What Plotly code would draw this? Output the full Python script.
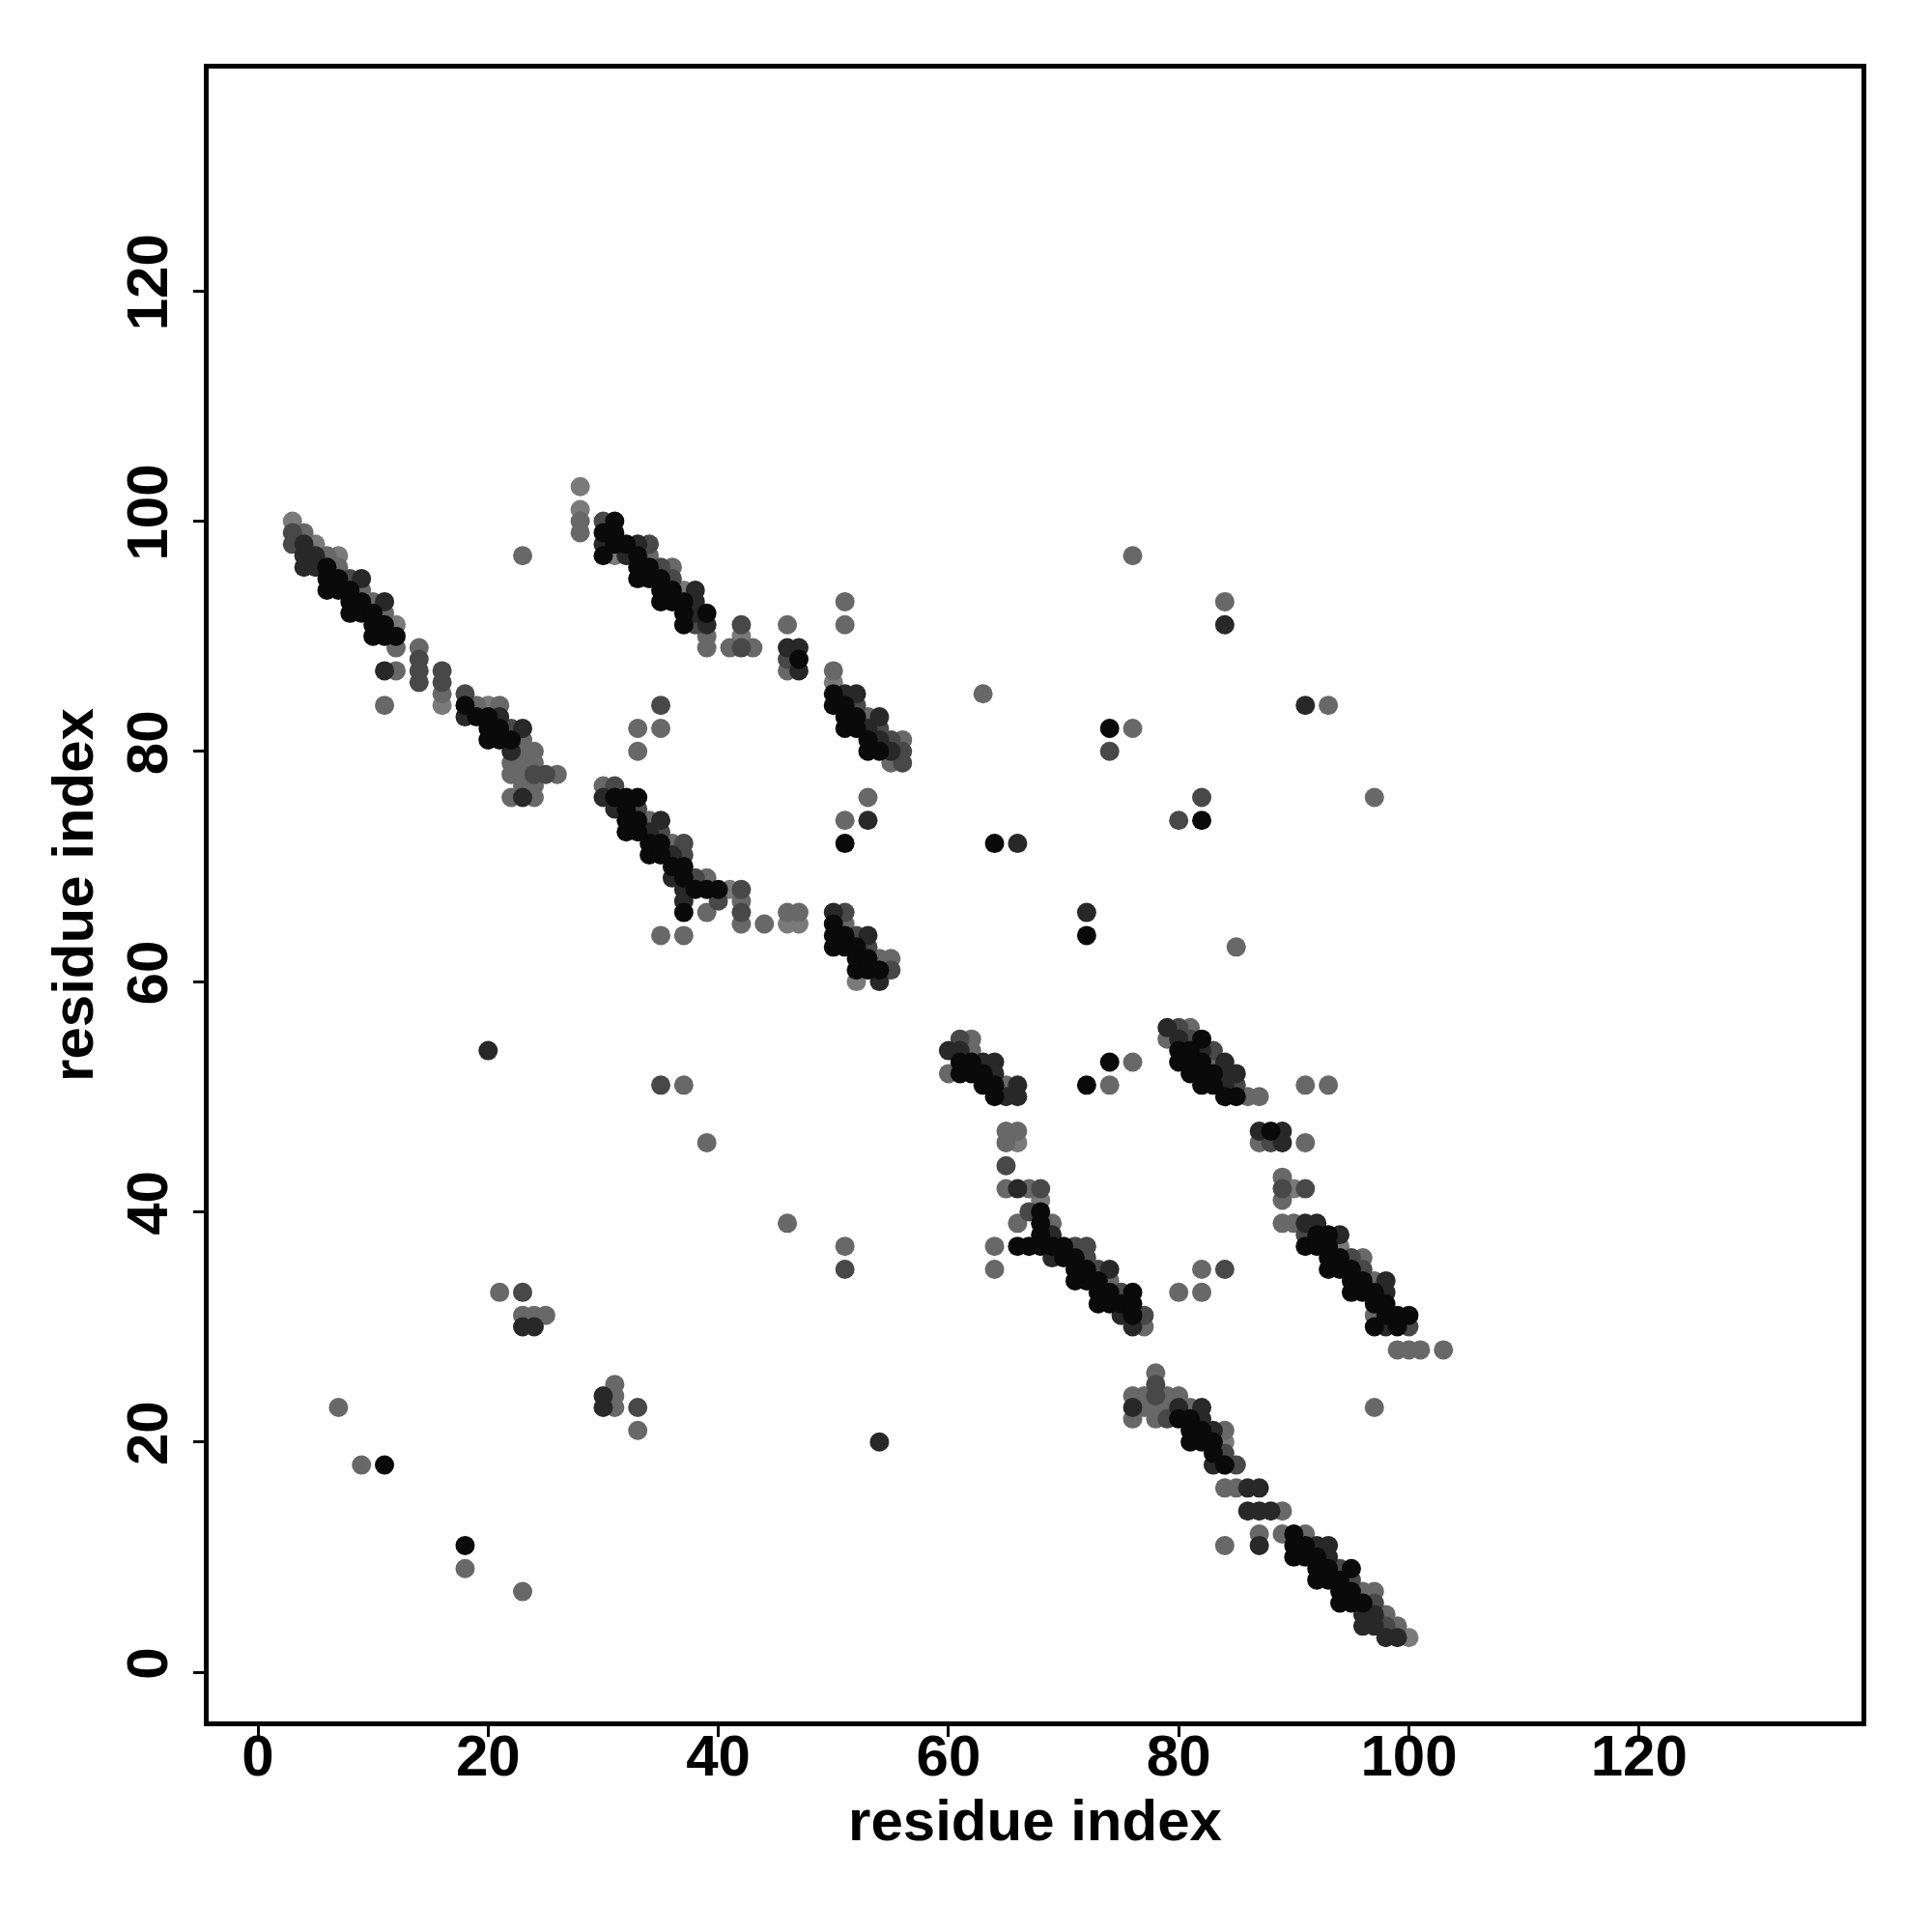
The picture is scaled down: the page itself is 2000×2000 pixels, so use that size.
import plotly.graph_objects as go

# shade code: 0 = black ... 4 = light grey (converted to contact probability below)
PROB_OF_SHADE = [0.95, 0.8, 0.6, 0.4, 0.2]

# band: residues 3-26 vs 76-100
band_a = [
    (3,100,4),(3,99,2),(3,98,2),
    (4,99,3),(4,98,1),(4,97,1),(4,96,1),
    (5,98,4),(5,97,1),(5,96,1),
    (6,97,3),(6,96,0),(6,95,0),(6,94,0),
    (7,97,4),(7,96,3),(7,95,0),(7,94,0),
    (8,95,2),(8,94,0),(8,93,0),(8,92,0),
    (9,95,1),(9,94,3),(9,93,0),(9,92,0),
    (10,93,3),(10,92,0),(10,91,0),(10,90,0),
    (11,93,1),(11,92,3),(11,91,0),(11,90,0),(11,87,1),(11,84,3),
    (12,91,4),(12,90,0),(12,89,3),(12,87,3),
    (14,89,3),(14,88,2),(14,87,2),(14,86,2),
    (16,87,2),(16,86,2),(16,85,3),(16,84,4),
    (18,85,2),(18,84,0),(18,83,1),
    (19,84,3),(19,83,0),
    (20,84,4),(20,83,0),(20,82,0),(20,81,0),
    (21,84,3),(21,83,1),(21,82,0),(21,81,0),
    (22,82,2),(22,81,0),(22,80,1),(22,79,3),(22,78,3),(22,76,3),
    (23,82,1),(23,81,3),(23,80,3),(23,79,3),(23,78,3),(23,77,3),(23,76,1),
    (24,80,3),(24,79,3),(24,78,2),(24,77,3),(24,76,3),
    (25,78,2),(26,78,3),(23,97,3),
]

# band: residues 28-56 vs 79-103
band_b = [
    (28,103,4),(28,101,4),(28,100,3),(28,99,3),
    (30,100,2),(30,99,0),(30,98,1),(30,97,0),
    (31,100,0),(31,99,0),(31,98,0),(31,97,4),
    (32,98,0),(32,97,1),
    (33,98,1),(33,97,0),(33,96,0),(33,95,0),
    (34,98,2),(34,97,3),(34,96,0),(34,95,0),
    (35,96,2),(35,95,0),(35,94,0),(35,93,0),
    (36,96,3),(36,95,2),(36,94,0),(36,93,0),
    (37,94,4),(37,93,0),(37,92,0),(37,91,0),
    (38,94,1),(38,93,1),(38,92,1),(38,91,2),
    (39,92,0),(39,91,1),(39,90,3),(39,89,3),
    (41,89,3),(42,91,2),(42,90,4),(42,89,2),(43,89,3),
    (46,91,3),(46,89,1),(46,88,2),(46,87,3),
    (47,89,1),(47,88,0),(47,87,1),
    (51,93,3),(51,91,3),
    (50,87,3),(50,86,4),(50,85,0),(50,84,0),
    (51,85,1),(51,84,0),(51,83,0),(51,82,0),
    (52,85,1),(52,84,2),(52,83,0),(52,82,0),
    (53,83,3),(53,82,1),(53,81,0),(53,80,0),
    (54,83,1),(54,82,2),(54,81,1),(54,80,0),
    (55,81,2),(55,80,1),(55,79,3),
    (56,81,3),(56,80,2),(56,79,2),
    (33,82,3),(33,80,3),(35,84,2),(35,82,3),
]

# band: residues 30-55 vs 60-77
band_c = [
    (30,77,3),(30,76,1),
    (31,77,2),(31,76,0),(31,75,1),
    (32,76,0),(32,75,0),(32,74,0),(32,73,0),
    (33,76,0),(33,75,2),(33,74,0),(33,73,0),
    (34,74,3),(34,73,1),(34,72,0),(34,71,0),
    (35,74,1),(35,73,2),(35,72,0),(35,71,0),
    (36,72,3),(36,71,1),(36,70,0),(36,69,1),
    (37,72,2),(37,71,2),(37,70,0),(37,69,0),(37,68,1),(37,67,1),(37,66,0),(37,64,3),
    (38,69,2),(38,68,0),
    (39,69,3),(39,68,0),(39,66,3),
    (40,68,0),(40,67,2),(41,68,4),
    (42,68,2),(42,67,3),(42,66,2),(42,65,3),
    (44,65,3),(46,66,3),(46,65,4),(47,66,3),(47,65,4),(35,64,3),
    (50,66,1),(50,65,0),(50,64,0),(50,63,0),
    (51,66,2),(51,65,3),(51,64,0),(51,63,0),
    (52,64,2),(52,63,0),(52,62,0),(52,61,0),(52,60,4),
    (53,64,1),(53,63,2),(53,62,0),(53,61,0),
    (54,62,3),(54,61,0),(54,60,1),
    (55,62,3),(55,61,2),
    (53,76,3),(51,74,3),(53,74,1),(51,72,0),
]

# cluster: residues 60-78 vs 30-55
band_d = [
    (60,54,1),(60,52,3),
    (61,55,2),(61,54,1),(61,53,0),(61,52,0),
    (62,55,3),(62,54,3),(62,53,0),(62,52,0),
    (63,53,1),(63,52,0),(63,51,0),
    (64,53,1),(64,52,1),(64,51,0),(64,50,0),
    (65,51,3),(65,50,1),(66,51,1),(66,50,1),
    (65,47,3),(66,47,3),(65,46,3),(66,46,4),(65,44,2),
    (65,42,3),(66,42,1),(67,42,3),(68,42,2),(68,41,4),
    (67,40,2),(66,39,3),(68,40,0),(68,39,0),(68,38,0),(69,39,3),(69,38,1),
    (64,37,3),(64,35,3),
    (66,37,0),(67,37,0),(68,37,0),(69,37,0),(70,37,0),(71,37,2),(72,37,2),
    (69,36,1),(70,36,0),(71,36,0),(72,36,2),
    (71,35,0),(72,35,0),(73,35,2),(74,35,1),
    (71,34,0),(72,34,0),(73,34,0),(74,34,3),
    (73,33,0),(74,33,0),(75,33,2),(76,33,0),
    (73,32,0),(74,32,0),(75,32,0),(76,32,0),
    (75,31,1),(76,31,0),(77,31,2),
    (76,30,1),(77,30,3),
]

# band: residues 79-103 vs 28-56
band_e = [
    (79,56,1),(80,56,2),(81,56,3),
    (79,55,3),(80,55,1),(81,55,2),(82,55,0),
    (80,54,0),(81,54,0),(82,54,1),(83,54,2),
    (80,53,0),(81,53,0),(82,53,0),(83,53,3),(84,53,1),
    (81,52,0),(82,52,0),(83,52,0),(84,52,1),(85,52,1),
    (82,51,0),(83,51,0),(84,51,1),(85,51,2),
    (84,50,0),(85,50,0),(86,50,3),(87,50,3),
    (87,47,1),(88,47,0),(89,47,1),(87,46,3),(88,46,2),(89,46,1),(91,46,3),
    (89,43,3),(89,42,2),(90,42,4),(91,42,2),(89,41,3),
    (89,39,3),(90,39,3),(91,39,1),(92,39,1),
    (91,38,2),(92,38,0),(93,38,0),(94,38,1),
    (91,37,0),(92,37,0),(93,37,0),(94,37,4),
    (93,36,0),(94,36,0),(95,36,2),(96,36,3),
    (93,35,0),(94,35,0),(95,35,0),(96,35,2),
    (95,34,0),(96,34,0),(97,34,3),(98,34,1),
    (95,33,0),(96,33,0),(97,33,0),(98,33,1),
    (97,32,0),(98,32,0),
    (97,31,3),(98,31,0),(99,31,0),(100,31,0),
    (97,30,0),(98,30,1),(99,30,0),(100,30,2),
    (99,28,3),(100,28,3),(101,28,3),(103,28,3),
    (82,35,3),(84,35,2),(80,33,3),(82,33,3),
]

# band: residues 76-100 vs 3-26
band_f = [
    (78,26,3),(78,25,2),(78,24,2),(76,24,3),(77,24,3),(79,24,3),(80,24,3),
    (76,23,1),(77,23,3),(78,23,3),(79,23,3),(80,23,1),(81,23,3),(82,23,1),
    (76,22,3),(78,22,3),(79,22,2),(80,22,0),(81,22,0),(82,22,1),
    (81,21,0),(82,21,0),(83,21,1),(84,21,3),
    (81,20,0),(82,20,0),(83,20,0),(84,20,4),
    (83,19,0),(84,19,2),
    (83,18,1),(84,18,0),(85,18,2),
    (84,16,3),(85,16,3),(86,16,1),(87,16,1),
    (86,14,1),(87,14,1),(88,14,1),(89,14,3),
    (87,12,3),(87,11,1),(84,11,3),
    (89,12,3),(90,12,0),(91,12,3),
    (90,11,0),(91,11,0),(92,11,1),(93,11,1),
    (90,10,0),(91,10,0),(92,10,0),(93,10,1),
    (92,9,0),(93,9,0),(94,9,2),(95,9,0),
    (92,8,0),(93,8,0),(94,8,0),(95,8,2),
    (94,7,0),(95,7,0),(96,7,3),(97,7,3),
    (94,6,0),(95,6,0),(96,6,0),(97,6,2),
    (96,5,1),(97,5,1),(98,5,3),
    (96,4,1),(97,4,1),(98,4,2),(99,4,3),
    (98,3,1),(99,3,1),(100,3,4),
    (97,23,3),
]

# isolated contacts
scattered = [
    (7,23,3),(9,18,3),(11,18,0),(18,11,0),(18,9,3),(23,7,3),
    (21,33,3),(23,33,2),(23,31,3),(24,31,3),(25,31,3),(23,30,1),(24,30,1),
    (30,24,1),(31,25,3),(31,24,3),(30,23,1),(31,23,3),(33,23,2),(33,21,3),
    (54,20,1),
    (20,54,1),(35,51,2),(37,51,3),(39,46,3),(46,39,3),(51,37,3),(51,35,2),
    (76,97,3),(84,93,3),(84,91,1),(63,85,3),(91,84,1),(93,84,3),
    (74,82,0),(76,82,3),(74,80,2),(82,76,2),(80,74,2),(82,74,0),(97,76,3),
    (64,72,0),(66,72,1),(72,66,1),(72,64,0),(85,63,3),
    (74,53,0),(76,53,3),(72,51,0),(74,51,3),(91,51,3),(93,51,3),
]

x_ticks = [0, 20, 40, 60, 80, 100, 120]
y_ticks = [0, 20, 40, 60, 80, 100, 120]
axis_title = "residue index"

contacts = band_a + band_b + band_c + band_d + band_e + band_f + scattered
contacts = sorted(contacts, key=lambda c: -c[2])  # light first, dark on top
res_i = [c[0] for c in contacts]
res_j = [c[1] for c in contacts]
prob = [PROB_OF_SHADE[c[2]] for c in contacts]

grey_scale = [
    [0.0, "#8a8a8a"], [0.2, "#7a7a7a"], [0.4, "#686868"],
    [0.6, "#484848"], [0.8, "#282828"], [1.0, "#000000"],
]

fig = go.Figure(go.Scatter(
    x=res_i, y=res_j, mode="markers",
    marker=dict(size=20, color=prob, cmin=0, cmax=1,
                colorscale=grey_scale,
                line=dict(width=0), opacity=1),
    hoverinfo="x+y",
))

font_bold = dict(family="Liberation Sans, Arial, sans-serif", size=60, color="black", weight="bold")
axis_common = dict(
    range=[-4.28, 139.32], showgrid=False, zeroline=False,
    showline=True, mirror=True, linecolor="black", linewidth=4.5,
    ticks="outside", ticklen=11, tickwidth=3, tickcolor="black",
    tickfont=font_bold,
)
fig.update_layout(
    width=2000, height=2000,
    margin=dict(l=208, r=81, t=63, b=226),
    paper_bgcolor="white", plot_bgcolor="white",
    showlegend=False,
    xaxis=dict(axis_common, tickvals=x_ticks, ticklabelstandoff=-32,
               title=dict(text=axis_title, font=font_bold, standoff=14)),
    yaxis=dict(axis_common, tickvals=y_ticks, tickangle=-90, ticklabelstandoff=3,
               title=dict(text=axis_title, font=font_bold, standoff=5)),
)
fig.write_html("out.html")
